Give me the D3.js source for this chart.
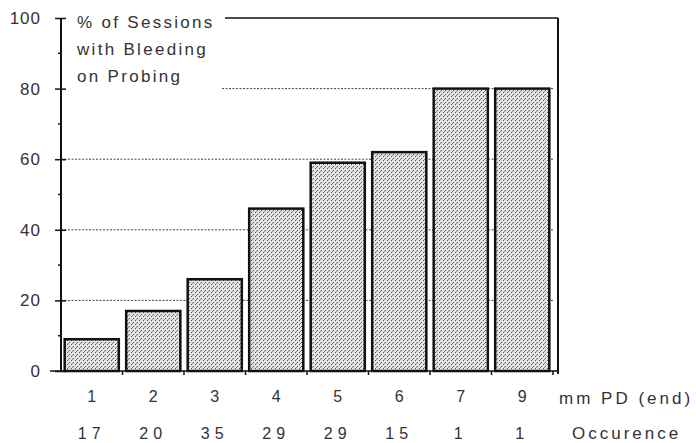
<!DOCTYPE html>
<html>
<head>
<meta charset="utf-8">
<script src="https://cdn.jsdelivr.net/npm/d3@7"></script>
<style>
  body { margin: 0; background: #fff; }
  text { font-family: "Liberation Sans", Arial, sans-serif; fill: #333; }
</style>
</head>
<body>
<div id="chart"></div>
<script>
const depths = ["1", "2", "3", "4", "5", "6", "7", "9"];
const bleedingPct = [9, 17, 26, 46, 59, 62, 80, 80];
const occurrence = [17, 20, 35, 29, 29, 15, 1, 1];
const yTicks = [0, 20, 40, 60, 80, 100];
const yMinorTicks = [10, 30, 50, 70, 90];
const titleLines = ["% of Sessions", "with Bleeding", "on Probing"];

const margin = { top: 18, right: 143, bottom: 72, left: 61 };
const W = 696, H = 443;
const width = W - margin.left - margin.right;   // 492
const height = H - margin.top - margin.bottom;  // 353

const svg = d3.select("#chart").append("svg")
  .attr("width", W)
  .attr("height", H);

// stippled fill like the scanned print
const defs = svg.append("defs");
const pat = defs.append("pattern")
  .attr("id", "stipple")
  .attr("width", 4).attr("height", 4)
  .attr("patternUnits", "userSpaceOnUse");
pat.append("rect").attr("width", 4).attr("height", 4).attr("fill", "#e2e2e2");
pat.append("rect").attr("x", 0).attr("y", 0).attr("width", 1).attr("height", 1).attr("fill", "#555");
pat.append("rect").attr("x", 2).attr("y", 2).attr("width", 1).attr("height", 1).attr("fill", "#555");
pat.append("rect").attr("x", 3).attr("y", 1).attr("width", 1).attr("height", 1).attr("fill", "#888");

const g = svg.append("g")
  .attr("transform", `translate(${margin.left},${margin.top})`);

const x = d3.scaleBand().domain(depths).range([0, width]).paddingInner(0.12).paddingOuter(0.06);
const xb = d3.scaleBand().domain(depths).range([0, width]);
const y = d3.scaleLinear().domain([0, 100]).range([height, 0]);

// dotted gridlines
g.selectAll(".grid")
  .data(yTicks.filter(d => d > 0 && d < 100))
  .enter().append("line")
  .attr("class", "grid")
  .attr("x1", d => d === 80 ? 161 : 0)
  .attr("x2", width)
  .attr("y1", d => y(d))
  .attr("y2", d => y(d))
  .attr("stroke", "#444")
  .attr("stroke-width", 1)
  .attr("stroke-dasharray", "2,1.5");

// frame: top and right
g.append("line")
  .attr("x1", 164).attr("x2", width + 5)
  .attr("y1", y(100)).attr("y2", y(100))
  .attr("stroke", "#111").attr("stroke-width", 1.5);
g.append("line")
  .attr("x1", width + 5).attr("x2", width + 5)
  .attr("y1", y(100)).attr("y2", y(0) + 3)
  .attr("stroke", "#111").attr("stroke-width", 2);

// bars
g.selectAll(".bar")
  .data(depths)
  .enter().append("rect")
  .attr("class", "bar")
  .attr("x", d => x(d))
  .attr("y", (d, i) => y(bleedingPct[i]))
  .attr("width", x.bandwidth())
  .attr("height", (d, i) => y(0) - y(bleedingPct[i]))
  .attr("fill", "url(#stipple)")
  .attr("stroke", "#111")
  .attr("stroke-width", 2.5);

// y axis
const yAxis = g.append("g")
  .call(d3.axisLeft(y).tickValues(yTicks).tickSize(6).tickPadding(14))
  .call(a => a.select(".domain").remove());
yAxis.selectAll(".tick line").attr("x2", -6).attr("x1", 5).attr("stroke", "#111").attr("stroke-width", 1.5);
yAxis.selectAll(".tick text")
  .attr("font-size", 17)
  .attr("letter-spacing", 1)
  .attr("fill", "#333")
  .attr("font-family", "Liberation Sans, Arial, sans-serif");

g.selectAll(".minor")
  .data(yMinorTicks)
  .enter().append("line")
  .attr("x1", -3).attr("x2", 0)
  .attr("y1", d => y(d)).attr("y2", d => y(d))
  .attr("stroke", "#111").attr("stroke-width", 1.5);

g.append("line")
  .attr("x1", 0).attr("x2", 0)
  .attr("y1", y(100)).attr("y2", y(0))
  .attr("stroke", "#111").attr("stroke-width", 2);

// x axis
const xAxis = g.append("g")
  .attr("transform", `translate(0,${height})`)
  .call(d3.axisBottom(xb).tickSize(0).tickPadding(20))
  .call(a => a.select(".domain").remove());
xAxis.selectAll(".tick text")
  .attr("font-size", 16)
  .attr("fill", "#333")
  .attr("font-family", "Liberation Sans, Arial, sans-serif");

g.append("line")
  .attr("x1", -11).attr("x2", width + 5)
  .attr("y1", y(0)).attr("y2", y(0))
  .attr("stroke", "#111").attr("stroke-width", 1.5);

g.selectAll(".xtick")
  .data(depths)
  .enter().append("line")
  .attr("x1", d => xb(d) + xb.bandwidth())
  .attr("x2", d => xb(d) + xb.bandwidth())
  .attr("y1", height).attr("y2", height + 4)
  .attr("stroke", "#111").attr("stroke-width", 1.5);

g.selectAll(".occ")
  .data(depths)
  .enter().append("text")
  .attr("class", "occ")
  .attr("x", d => xb(d) + xb.bandwidth() / 2)
  .attr("y", height + 68)
  .attr("text-anchor", "middle")
  .attr("font-size", 16)
  .attr("letter-spacing", 5)
  .text((d, i) => occurrence[i]);

g.append("text")
  .attr("x", width + 6)
  .attr("y", height + 33)
  .attr("font-size", 17)
  .attr("letter-spacing", 3)
  .text("mm PD (end)");

g.append("text")
  .attr("x", width + 19)
  .attr("y", height + 68)
  .attr("font-size", 17)
  .attr("letter-spacing", 3)
  .text("Occurence");

// y title
g.append("text")
  .attr("x", 16)
  .attr("y", 10)
  .attr("font-size", 17)
  .attr("letter-spacing", 2.3)
  .selectAll("tspan")
  .data(titleLines)
  .enter().append("tspan")
  .attr("x", 16)
  .attr("dy", (d, i) => i === 0 ? 0 : 27)
  .text(d => d);
</script>
</body>
</html>
